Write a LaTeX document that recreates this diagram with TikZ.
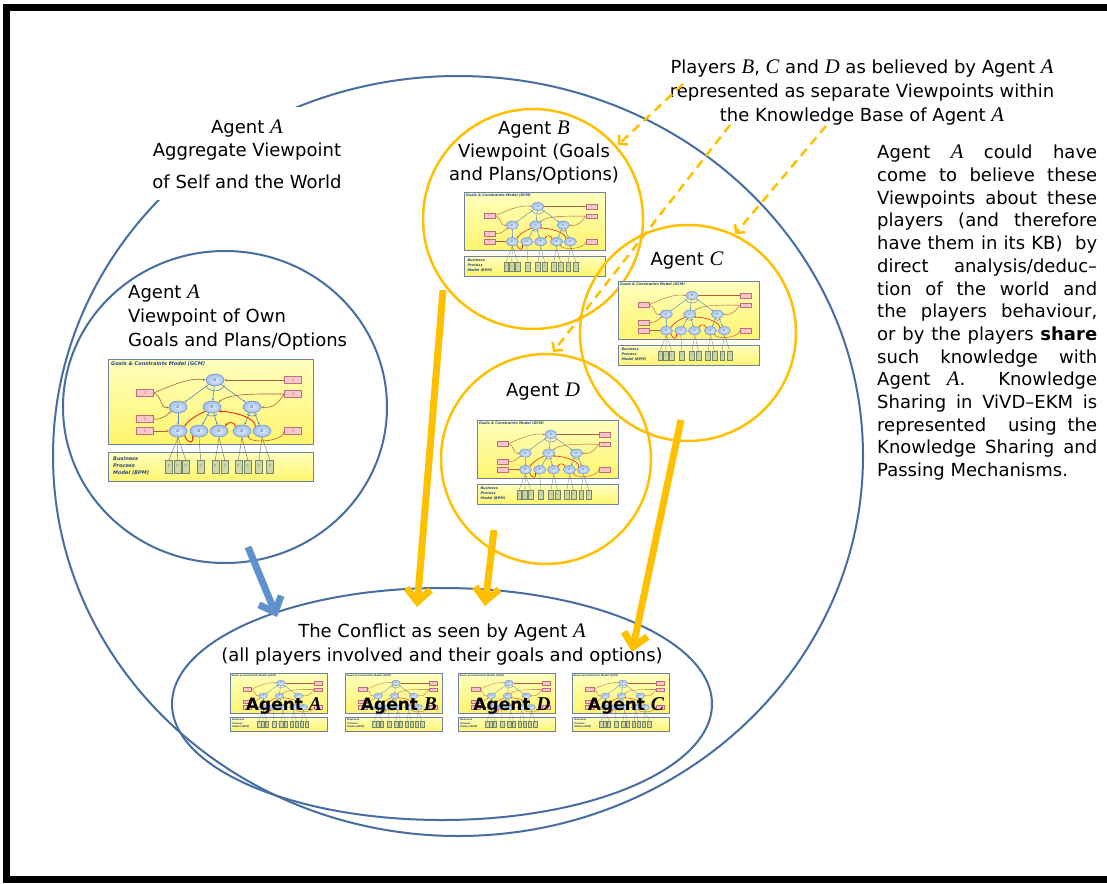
\documentclass[tikz,border=0pt]{standalone}
\usepackage{fontspec}
\setmainfont{DejaVu Sans}
\newfontfamily\tmsfont{Liberation Serif}[Scale=1.15]
\newcommand\agl[1]{{\tmsfont\itshape #1}}
\newcommand\agb[1]{{\tmsfont\bfseries\itshape #1}}
\usetikzlibrary{arrows.meta,shapes.geometric}
\definecolor{ablue}{RGB}{70,110,160}
\definecolor{ayellow}{RGB}{255,192,0}
\definecolor{lblue}{RGB}{95,145,205}
\definecolor{mborder}{RGB}{110,130,160}
\definecolor{gcmtop}{RGB}{255,255,190}
\definecolor{gcmbot}{RGB}{255,244,110}
\definecolor{gfill}{RGB}{160,190,240}
\definecolor{gin}{RGB}{225,235,255}
\definecolor{gborder}{RGB}{100,135,200}
\definecolor{cfill}{RGB}{246,200,205}
\definecolor{cborder}{RGB}{190,110,120}
\definecolor{pfill}{RGB}{205,215,170}
\definecolor{pborder}{RGB}{120,135,95}
\definecolor{eblue}{RGB}{85,135,195}
\definecolor{ebrown}{RGB}{175,95,65}
\definecolor{ered}{RGB}{230,45,25}
\definecolor{mtext}{RGB}{40,70,130}
\tikzset{
  txt/.style={font=\fontsize{18}{23}\selectfont, inner sep=0pt, align=center},
  bluecirc/.style={draw=ablue, line width=2pt},
  yelcirc/.style={draw=ayellow, line width=2.5pt},
  bigarrow/.style={line width=7pt, -{Straight Barb[length=13pt,width=24pt]}},
  dasharrow/.style={draw=ayellow, line width=2.5pt, dash pattern=on 9pt off 6pt, -{Straight Barb[length=6pt,width=13pt]}},
  mbox/.style={draw=mborder, line width=0.8pt*\ms, top color=gcmtop, bottom color=gcmbot},
  mtitle/.style={font=\fontsize{5}{7}\selectfont\bfseries\itshape, text=mtext, inner sep=0pt},
  gn/.style={ellipse, draw=gborder, line width=0.5pt*\ms, inner color=gin, outer color=gfill, minimum width=18, minimum height=12, inner sep=0pt, font=\fontsize{4}{4}\selectfont\itshape, text=mtext},
  cn/.style={rectangle, draw=cborder, fill=cfill, line width=0.5pt*\ms, minimum width=17, minimum height=7, inner sep=0pt, font=\fontsize{3.5}{3.5}\selectfont, text=cborder},
  pn/.style={rectangle, draw=pborder, fill=pfill, line width=0.5pt*\ms, minimum width=7, minimum height=13, inner sep=0pt, font=\fontsize{3.5}{3.5}\selectfont, text=pborder},
  bl/.style={draw=eblue, line width=0.6pt*\ms, -{Stealth[length=2.5pt,width=2pt,scale=\ms]}},
  br/.style={draw=ebrown, line width=0.6pt*\ms, -{Stealth[length=2.5pt,width=2pt,scale=\ms]}},
  rd/.style={draw=ered, line width=0.9pt*\ms, -{Stealth[length=3pt,width=2.5pt,scale=\ms]}},
  gl/.style={draw=gray, line width=0.5pt*\ms},
  biglabel/.style={font=\fontsize{17}{17}\selectfont\bfseries, inner sep=0pt, anchor=base}
}
\newcommand\vpmodel[3]{%
\begin{scope}[shift={(#1,#2)},scale=#3,every node/.append style={transform shape}]
\pgfmathsetmacro\ms{#3}
\draw[mbox] (0,0) rectangle (205,85);
\draw[mbox] (0,93) rectangle (205,122);
\node[mtitle,anchor=north west] (mt) at (3,2.5) {Goals \& Constraints Model (GCM)};
\node[mtitle,anchor=north west,align=left] (mb) at (5,97) {Business\\Process\\Model (BPM)};
\node[gn] (g0) at (107,21) {G};
\node[gn] (g1) at (70,48) {G};
\node[gn] (g2) at (104,48) {G};
\node[gn] (g3) at (144,48) {G};
\node[gn] (b1) at (70,72) {G};
\node[gn] (b2) at (91,72) {G};
\node[gn] (b3) at (111,72) {G};
\node[gn] (b4) at (134,72) {G};
\node[gn] (b5) at (154,72) {G};
\node[cn] (cl1) at (37,34) {C};
\node[cn] (cl2) at (37,60) {C};
\node[cn] (cl3) at (37,72) {C};
\node[cn] (cr1) at (185,21) {C};
\node[cn] (cr2) at (185,35) {C};
\node[cn] (cr3) at (185,72) {C};
\foreach \i/\x in {1/61,2/69.3,3/77.7,4/92.7,5/107.3,6/116.7,7/130.3,8/139.7,9/151,10/162}
  \node[pn] (p\i) at (\x,107.7) {P};
\draw[bl] (g0) -- (g1); \draw[bl] (g0) -- (g2); \draw[bl] (g0) -- (g3);
\draw[bl] (g1) -- (b1); \draw[bl] (g2) -- (b2); \draw[bl] (g2) -- (b3);
\draw[bl] (g3) -- (b4); \draw[bl] (g3) -- (b5);
\draw[eblue, line width=0.6pt*\ms] ([shift={(150:11)}]g0.center) arc[start angle=150, end angle=30, radius=11];
\draw[eblue, line width=0.6pt*\ms] ([shift={(125:9)}]g2.center) arc[start angle=125, end angle=55, radius=9];
\draw[eblue, line width=0.6pt*\ms] ([shift={(125:9)}]g3.center) arc[start angle=125, end angle=55, radius=9];
\draw[br] (cl1.east) .. controls (62,27) and (82,18) .. (g0.west);
\draw[br] (cl1.east) .. controls (55,38) and (52,50) .. (g1.west);
\draw[br] (cl2.east) .. controls (55,61) and (58,56) .. (g1.south west);
\draw[br] (cl3.east) -- (b1.west);
\draw[br] (cr1.west) -- (g0.east);
\draw[br] (cr2.west) .. controls (150,35) and (120,34) .. (g2.north east);
\draw[br] (cr2.west) .. controls (172,40) and (168,50) .. (g3.east);
\draw[br] (cr3.west) .. controls (175,84) and (140,84) .. (b4.south east);
\draw[rd] (g2.south west) .. controls (88,56) and (80,62) .. (b1.north east);
\draw[rd] (b1.south east) .. controls (80,86) and (86,84) .. (b2.south west);
\draw[rd] (b4.north west) .. controls (127,62) and (119,63) .. (b3.north east);
\draw[rd] (b5.north west) .. controls (148,58) and (122,52) .. (g2.south east);
\draw[gl] (b1.south) -- (p1.north); \draw[gl] (b1.south) -- (p2.north); \draw[gl] (b1.south) -- (p3.north);
\draw[gl] (b2.south) -- (p4.north);
\draw[gl] (b3.south) -- (p5.north); \draw[gl] (b3.south) -- (p6.north);
\draw[gl] (b4.south) -- (p7.north); \draw[gl] (b4.south) -- (p8.north);
\draw[gl] (b5.south) -- (p9.north); \draw[gl] (b5.south) -- (p10.north);
\end{scope}}
\begin{document}
\begin{tikzpicture}[x=1pt,y=-1pt]
\useasboundingbox (0,0) rectangle (1107,883);
\clip (0,0) rectangle (1107,883);
\fill[white] (0,0) rectangle (1107,883);
\draw[line width=7pt] (6.5,7.5) rectangle (1130,879);

% outer aggregate viewpoint
\draw[bluecirc] (458,456) ellipse [x radius=405, y radius=380];
\fill[white] (143,107) rectangle (352,200);
\node[txt, anchor=north] (aggr) at (247,120) {Agent \agl{A}\\Aggregate Viewpoint\\[9pt]of Self and the World};

% own viewpoint
\draw[bluecirc] (225,407) ellipse [x radius=162, y radius=156];
\node[txt, align=left, anchor=north west, font=\fontsize{18}{24}\selectfont] (own) at (128,285) {Agent \agl{A}\\Viewpoint of Own\\Goals and Plans/Options};
\vpmodel{108}{359}{1}

% agent B
\draw[yelcirc] (533,219) circle [radius=110];
\node[txt, anchor=north] (bt) at (534,120.5) {Agent \agl{B}\\Viewpoint (Goals\\and Plans/Options)};
\vpmodel{464}{192}{0.69}

% agent C
\draw[yelcirc] (688,333) circle [radius=108];
\node[txt, anchor=base] (ct) at (687,265.5) {Agent \agl{C}};
\vpmodel{618}{281}{0.69}

% agent D
\draw[yelcirc] (546,459) circle [radius=105];
\node[txt, anchor=base] (dt) at (543,396) {Agent \agl{D}};
\vpmodel{477}{420}{0.69}

% conflict
\draw[bluecirc] (442,704) ellipse [x radius=270, y radius=116];
\node[txt, anchor=north, font=\fontsize{18}{24}\selectfont] (conf) at (442,624) {The Conflict as seen by Agent \agl{A}\\(all players involved and their goals and options)};
\vpmodel{230}{673}{0.475}
\vpmodel{345}{673}{0.475}
\vpmodel{458}{673}{0.475}
\vpmodel{572}{673}{0.475}
\node[biglabel] (la) at (284,710) {Agent \agb{A}};
\node[biglabel] (lb) at (399,710) {Agent \agb{B}};
\node[biglabel] (ld) at (512,710) {Agent \agb{D}};
\node[biglabel] (lc) at (626,710) {Agent \agb{C}};

% texts on the right
\node[txt, anchor=north, font=\fontsize{18}{23.7}\selectfont] (top) at (862,60) {Players \agl{B}, \agl{C} and \agl{D} as believed by Agent \agl{A}\\represented as separate Viewpoints within\\the Knowledge Base of Agent \agl{A}};
\node[txt, align=left, anchor=north west, font=\fontsize{18}{22.7}\selectfont] (para) at (877,145) {%
\makebox[220pt][s]{Agent \agl{A} could have}\\
\makebox[220pt][s]{come to believe these}\\
\makebox[220pt][s]{Viewpoints about these}\\
\makebox[220pt][s]{players (and therefore}\\
\makebox[220pt][s]{have them in its KB) \ by}\\
\makebox[220pt][s]{direct analysis/deduc–}\\
\makebox[220pt][s]{tion of the world and}\\
\makebox[220pt][s]{the players behaviour,}\\
\makebox[220pt][s]{or by the players \textbf{share}}\\
\makebox[220pt][s]{such knowledge with}\\
\makebox[220pt][s]{Agent \agl{A}. \ Knowledge}\\
\makebox[220pt][s]{Sharing in ViVD–EKM is}\\
\makebox[220pt][s]{represented \ using the}\\
\makebox[220pt][s]{Knowledge Sharing and}\\
Passing Mechanisms.};

% dashed arrows
\coordinate (d1s) at (683,84);
\coordinate (d1e) at (618,145);
\coordinate (d2s) at (730,125);
\coordinate (d2e) at (553,352);
\coordinate (d3s) at (826,126);
\coordinate (d3e) at (735,234);
\draw[dasharrow] (d1s) -- (d1e);
\draw[dasharrow] (d2s) -- (d2e);
\draw[dasharrow] (d3s) -- (d3e);

% big arrows
\coordinate (bas) at (248,547);
\coordinate (bae) at (277,617);
\coordinate (ybs) at (443,290);
\coordinate (ybe) at (417,607);
\coordinate (yds) at (494,530);
\coordinate (yde) at (485,606);
\coordinate (ycs) at (681,420);
\coordinate (yce) at (632,652);
\draw[bigarrow, draw=lblue] (bas) -- (bae);
\draw[bigarrow, draw=ayellow] (ybs) -- (ybe);
\draw[bigarrow, draw=ayellow] (yds) -- (yde);
\draw[bigarrow, draw=ayellow] (ycs) -- (yce);
\end{tikzpicture}
\end{document}
